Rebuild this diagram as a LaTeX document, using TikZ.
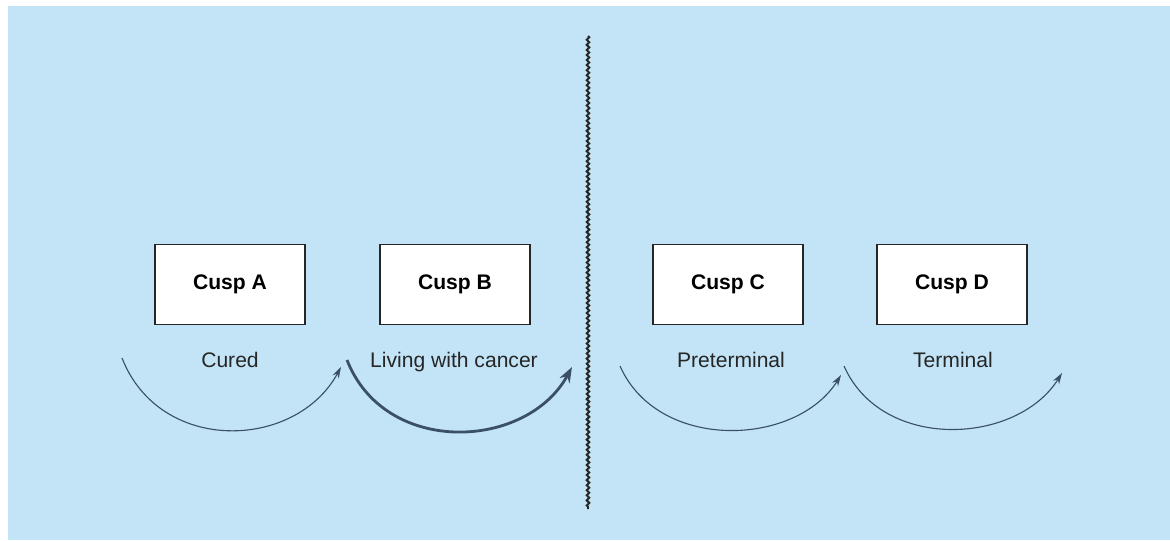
\documentclass[tikz,border=0pt]{standalone}
\usepackage{fontspec}
\setmainfont{Liberation Sans}
\usetikzlibrary{arrows.meta,decorations.pathmorphing}

\definecolor{bgblue}{RGB}{194,228,246}
\definecolor{arcblue}{RGB}{58,80,104}

\begin{document}
\begin{tikzpicture}[
cuspnode/.style={rectangle, draw=black!85, fill=white, line width=0.9pt, minimum width=37.5mm, minimum height=20mm, font=\fontsize{15}{18}\selectfont\bfseries},
phasenode/.style={font=\fontsize{15}{18}\selectfont, text=black!85},
thinarc/.style={draw=arcblue, line width=0.8pt, -{Stealth[length=8pt,width=5pt]}},
thickarc/.style={draw=arcblue, line width=2pt, -{Stealth[length=11pt,width=8pt]}},]

\useasboundingbox (0, 0) rectangle (29.25, 13.5);
\fill[bgblue] (0.2, 0) rectangle (29.25, 13.35);

\node (cuspA) [cuspnode] at (5.75, 6.39) {Cusp A};
\node (cuspB) [cuspnode] at (11.375, 6.39) {Cusp B};
\node (cuspC) [cuspnode] at (18.2, 6.39) {Cusp C};
\node (cuspD) [cuspnode] at (23.8, 6.39) {Cusp D};

\node (cured) [phasenode] at (5.75, 4.5) {Cured};
\node (living) [phasenode] at (11.35, 4.45) {Living with cancer};
\node (preterm) [phasenode] at (18.275, 4.5) {Preterminal};
\node (term) [phasenode] at (23.825, 4.5) {Terminal};

\coordinate (aStart) at (3.05, 4.55);
\coordinate (aEnd) at (8.525, 4.325);
\coordinate (bStart) at (8.675, 4.5);
\coordinate (bEnd) at (14.3, 4.325);
\coordinate (cStart) at (15.5, 4.35);
\coordinate (cEnd) at (21.025, 4.125);
\coordinate (dStart) at (21.1, 4.35);
\coordinate (dEnd) at (26.55, 4.175);

\draw[thinarc] (aStart) .. controls +(0.95, -2.425) and +(-1.125, -2.075) .. (aEnd);
\draw[thickarc] (bStart) .. controls +(0.95, -2.425) and +(-1.125, -2.075) .. (bEnd);
\draw[thinarc] (cStart) .. controls +(0.95, -2.15) and +(-1.125, -1.8) .. (cEnd);
\draw[thinarc] (dStart) .. controls +(0.95, -2.15) and +(-1.125, -1.8) .. (dEnd);

\coordinate (divTop) at (14.7, 12.6);
\coordinate (divBottom) at (14.7, 0.775);
\draw[black!85, line width=1.4pt, decorate, decoration={zigzag, segment length=3.6pt, amplitude=0.9pt}] (divTop) -- (divBottom);

\end{tikzpicture}
\end{document}
